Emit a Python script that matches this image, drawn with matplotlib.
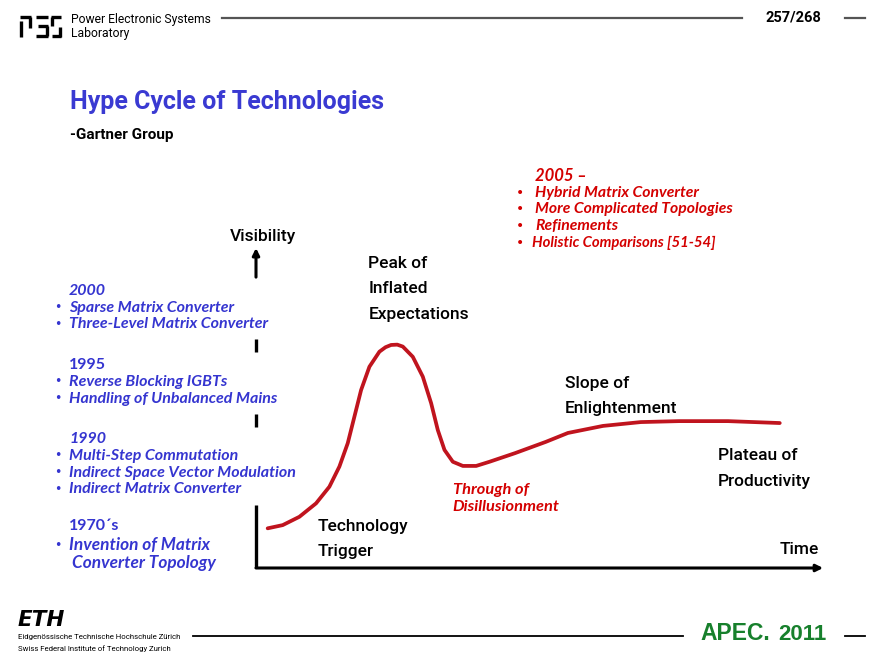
import numpy as np
import matplotlib
matplotlib.use("Agg")
import matplotlib.pyplot as plt

# hype curve (time 0..100, visibility 0..100)
time_pts = [2.1, 4.8, 7.8, 10.8, 13.2, 15.0, 16.5, 17.7, 18.9, 20.4, 22.2,
            23.3, 24.3, 25.4, 26.4, 28.2, 30.0, 31.5, 32.7, 33.9, 35.4, 37.2,
            39.6, 42.0, 46.6, 52.1, 56.1, 62.4, 69.2, 76.1, 84.9, 94.2]
visibility = [12.4, 13.4, 16.0, 20.2, 25.4, 31.7, 39.0, 47.3, 55.6, 62.9, 67.6,
              69.0, 69.7, 69.8, 69.2, 66.0, 59.8, 51.5, 43.1, 36.9, 33.2, 31.9,
              31.9, 33.2, 35.9, 39.4, 42.2, 44.4, 45.6, 45.9, 45.9, 45.3]

# phase labels (black) and their anchor in the chart (time, visibility)
phase_labels = ["Peak of\nInflated\nExpectations", "Slope of\nEnlightenment",
                "Plateau of\nProductivity", "Technology\nTrigger"]
phase_pos = [(20.2, 87.2), (55.6, 53.8), (83.1, 31.1), (11.0, 9.1)]
trough_label = "Through of\nDisillusionment"
trough_pos = (35.4, 21.7)

# matrix converter milestones
left_blocks = [
    ("2000", True, ["Sparse Matrix Converter", "Three-Level Matrix Converter"]),
    ("1995", False, ["Reverse Blocking IGBTs", "Handling of Unbalanced Mains"]),
    ("1990", True, ["Multi-Step Commutation", "Indirect Space Vector Modulation",
                    "Indirect Matrix Converter"]),
]
left_block_y = [291, 365, 439]
old_year = "1970´s"
old_items = ["Invention of Matrix", "Converter Topology"]

red_year = "2005 \u2013"
red_items = ["Hybrid Matrix Converter", "More Complicated Topologies",
             "Refinements", "Holistic Comparisons [51-54]"]

BLUE = "#3535d0"
RED = "#d40000"
CURVE = "#c0141e"
GREEN = "#17802c"
NARROW = ["Roboto", "DejaVu Sans"]
ITAL = ["Lato", "Open Sans", "DejaVu Sans"]

fig = plt.figure(figsize=(8.84, 6.66), dpi=100)
bg = fig.add_axes([0, 0, 1, 1])
bg.set_xlim(0, 884)
bg.set_ylim(666, 0)
bg.axis("off")

# header
k = dict(color="black", lw=2.4, solid_capstyle="butt")
bg.plot([20, 31], [17, 17], **k)
bg.plot([30, 30], [17, 28], **k)
bg.plot([21, 21], [21, 37], **k)
bg.plot([36, 48], [17, 17], **k)
bg.plot([38, 48], [26, 26], **k)
bg.plot([36, 48], [36, 36], **k)
bg.plot([47, 47], [26, 36], **k)
bg.plot([51, 61], [17, 17], **k)
bg.plot([52, 52], [17, 26], **k)
bg.plot([60, 60], [27, 37], **k)
bg.plot([52, 61], [36, 36], **k)
bg.text(71, 20, "Power Electronic Systems", fontsize=8.7, family=NARROW, va="center")
bg.text(71, 33, "Laboratory", fontsize=8.7, family=NARROW, va="center")
bg.plot([222, 742], [18, 18], color="#555555", lw=1.6)
bg.text(765, 18, "257/268", fontsize=10.5, family=NARROW, weight="bold", va="center")
bg.plot([845, 865], [18, 18], color="#555555", lw=1.6)

# title
bg.text(70, 102, "Hype Cycle of Technologies", fontsize=18, family=NARROW,
        weight="bold", color="#3a3ad2", va="center")
bg.text(70, 135, "-Gartner Group", fontsize=11, family=NARROW, weight="bold", va="center")

# red 2005 block
bg.text(535, 176, red_year, fontsize=12, family=ITAL, style="italic",
        weight="bold", color=RED, va="center")
for i, item in enumerate(red_items):
    y = 193 + i * 16.5
    fs = 11.3 if i < 3 else 10.7
    bg.text(516, y, "\u2022", fontsize=10, color=RED, va="center")
    bg.text(535 if i < 3 else 532, y, item, fontsize=fs, family=ITAL,
            style="italic", weight="bold", color=RED, va="center")

# blue milestone blocks
for (year, it, items), y0 in zip(left_blocks, left_block_y):
    bg.text(69, y0, year, fontsize=11.5, family=ITAL, weight="bold",
            style="italic" if it else "normal", color=BLUE, va="center")
    for j, item in enumerate(items):
        y = y0 + 17 + j * 16.5
        bg.text(54, y, "\u2022", fontsize=9, color=BLUE, va="center")
        bg.text(69, y, item, fontsize=11.5, family=ITAL, style="italic",
                weight="bold", color=BLUE, va="center")
bg.text(69, 526, old_year, fontsize=11.5, family=ITAL, weight="bold", color=BLUE, va="center")
bg.text(54, 545, "\u2022", fontsize=9, color=BLUE, va="center")
bg.text(69, 545, old_items[0], fontsize=12.4, family=ITAL, style="italic",
        weight="bold", color=BLUE, va="center")
bg.text(72, 563, old_items[1], fontsize=12.4, family=ITAL, style="italic",
        weight="bold", color=BLUE, va="center")

# footer
bg.text(18, 620, "ETH", fontsize=15.5, family=["DejaVu Sans"], weight="black",
        style="italic", va="center")
bg.text(18, 637, "Eidgenössische Technische Hochschule Zürich", fontsize=5.6,
        family=NARROW, va="center")
bg.text(18, 649, "Swiss Federal Institute of Technology Zurich", fontsize=5.6,
        family=NARROW, va="center")
bg.plot([193, 683], [636, 636], color="black", lw=1.3)
bg.text(700, 634, "APEC.", fontsize=16.5, family=["Liberation Sans", "DejaVu Sans"],
        weight="bold", color=GREEN, va="center")
bg.text(778, 634, "2011", fontsize=16, family=["Liberation Sans", "DejaVu Sans"],
        weight="bold", color=GREEN, va="center")
bg.plot([845, 865], [636, 636], color="black", lw=1.3)

# hype chart
ax = fig.add_axes([256 / 884, (666 - 568) / 666, 556 / 884, 320 / 666])
ax.set_xlim(0, 100)
ax.set_ylim(0, 100)
ax.patch.set_alpha(0)
ax.axis("off")

ax.plot(time_pts, visibility, color=CURVE, lw=2.7, solid_capstyle="round",
        solid_joinstyle="round")

# axes: time arrow, dashed visibility arrow
ax.annotate("", xy=(1.02, 0), xytext=(0, 0), xycoords="axes fraction",
            arrowprops=dict(arrowstyle="-|>", color="black", lw=2.2,
                            mutation_scale=10, shrinkA=0, shrinkB=0))
ax.annotate("", xy=(0, 1.0), xytext=(0, 0.909), xycoords="axes fraction",
            arrowprops=dict(arrowstyle="-|>", color="black", lw=2.2,
                            mutation_scale=10, shrinkA=0, shrinkB=0))
for y1, y2 in [(0.675, 0.716), (0.441, 0.481), (0.0, 0.197)]:
    ax.plot([0, 0], [y1, y2], color="black", lw=2.4, transform=ax.transAxes,
            clip_on=False, solid_capstyle="butt")

for lab, (tx, vy) in zip(phase_labels, phase_pos):
    ax.text(tx, vy, lab, fontsize=12.5, family=NARROW, weight="medium",
            va="center", linespacing=1.85)
ax.text(trough_pos[0], trough_pos[1], trough_label, fontsize=11.8, family=ITAL,
        style="italic", weight="bold", color=RED, va="center", linespacing=1.35)
ax.text(-4.7, 103.5, "Visibility", fontsize=12.5, family=NARROW, weight="medium",
        va="center")
ax.text(94.2, 5.8, "Time", fontsize=12.5, family=NARROW, weight="medium",
        va="center")

fig.savefig("out.png", dpi=100)
